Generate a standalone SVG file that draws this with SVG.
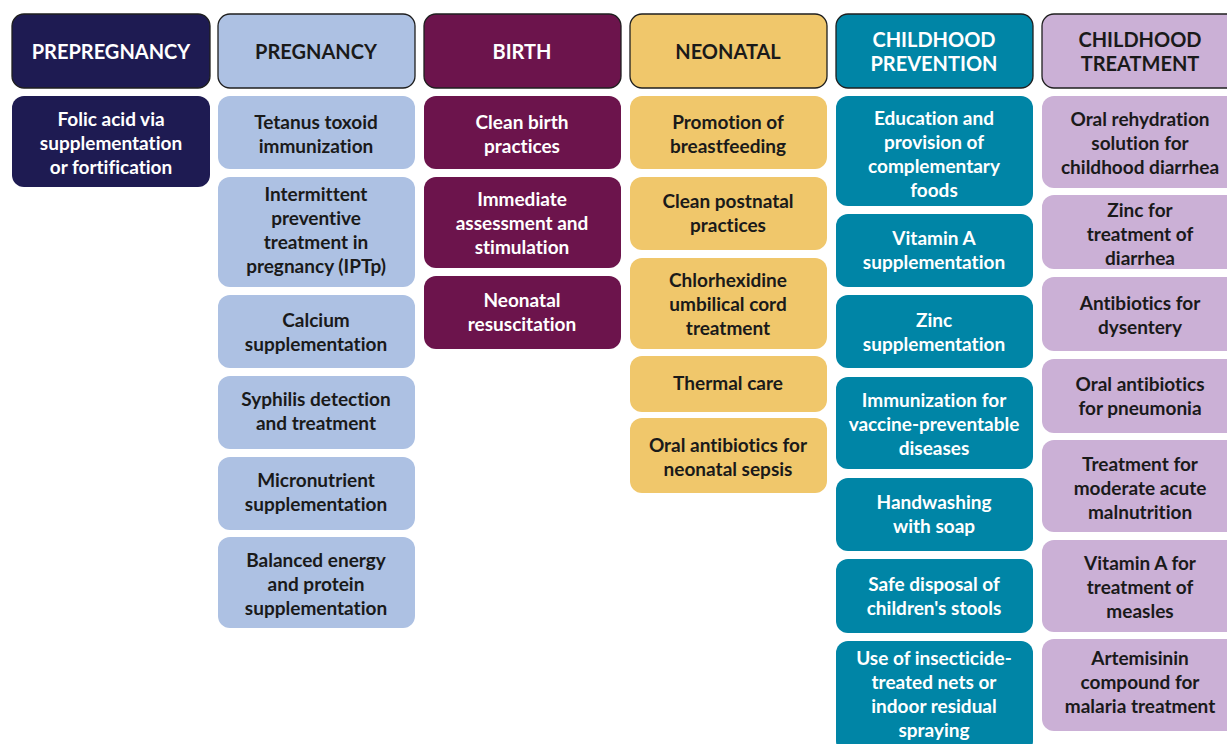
<svg xmlns="http://www.w3.org/2000/svg" width="1227" height="744" viewBox="0 0 1227 744">
<style>
text{font-family:Lato,"Open Sans","Liberation Sans",sans-serif;font-weight:700;font-size:19px;text-anchor:middle;font-variant-ligatures:none}
.hd{stroke:#1f1f1f;stroke-width:1.3}
.ht{font-size:20px}
.c1{fill:#1e1b52}.c2{fill:#adc1e3}.c3{fill:#6c144c}.c4{fill:#f0c76b}.c5{fill:#0085a6}.c6{fill:#cbb0d6}
.w{fill:#ffffff}.k{fill:#1a1a1a}
</style>
<rect width="1227" height="744" fill="#ffffff"/>
<g id="headers">
<g id="h-prepregnancy"><rect class="hd c1" x="12" y="14" width="198" height="74" rx="12"/><text class="w ht" x="111" y="59">PREPREGNANCY</text></g>
<g id="h-pregnancy"><rect class="hd c2" x="218" y="14" width="197" height="74" rx="12"/><text class="k ht" x="316" y="59">PREGNANCY</text></g>
<g id="h-birth"><rect class="hd c3" x="424" y="14" width="197" height="74" rx="12"/><text class="w ht" x="522" y="59">BIRTH</text></g>
<g id="h-neonatal"><rect class="hd c4" x="630" y="14" width="197" height="74" rx="12"/><text class="k ht" x="728" y="59">NEONATAL</text></g>
<g id="h-prevention"><rect class="hd c5" x="836" y="14" width="197" height="74" rx="12"/><text class="w ht" x="934" y="47">CHILDHOOD</text><text class="w ht" x="934" y="71">PREVENTION</text></g>
<g id="h-treatment"><rect class="hd c6" x="1042" y="14" width="198" height="74" rx="12"/><text class="k ht" x="1140" y="47">CHILDHOOD</text><text class="k ht" x="1140" y="71">TREATMENT</text></g>
</g>
<g id="col-prepregnancy">
<g id="n-folic"><rect class="c1" x="12" y="96" width="198" height="91" rx="12"/><text class="w" x="111" y="126">Folic acid via</text><text class="w" x="111" y="150">supplementation</text><text class="w" x="111" y="174">or fortification</text></g>
</g>
<g id="col-pregnancy">
<g id="n-tetanus"><rect class="c2" x="218" y="96" width="197" height="73" rx="12"/><text class="k" x="316" y="129">Tetanus toxoid</text><text class="k" x="316" y="153">immunization</text></g>
<g id="n-iptp"><rect class="c2" x="218" y="177" width="197" height="110" rx="12"/><text class="k" x="316" y="201">Intermittent</text><text class="k" x="316" y="225">preventive</text><text class="k" x="316" y="249">treatment in</text><text class="k" x="316" y="273">pregnancy (IPTp)</text></g>
<g id="n-calcium"><rect class="c2" x="218" y="295" width="197" height="73" rx="12"/><text class="k" x="316" y="327">Calcium</text><text class="k" x="316" y="351">supplementation</text></g>
<g id="n-syphilis"><rect class="c2" x="218" y="376" width="197" height="73" rx="12"/><text class="k" x="316" y="406">Syphilis detection</text><text class="k" x="316" y="430">and treatment</text></g>
<g id="n-micronutrient"><rect class="c2" x="218" y="457" width="197" height="73" rx="12"/><text class="k" x="316" y="487">Micronutrient</text><text class="k" x="316" y="511">supplementation</text></g>
<g id="n-balanced"><rect class="c2" x="218" y="537" width="197" height="91" rx="12"/><text class="k" x="316" y="567">Balanced energy</text><text class="k" x="316" y="591">and protein</text><text class="k" x="316" y="615">supplementation</text></g>
</g>
<g id="col-birth">
<g id="n-clean-birth"><rect class="c3" x="424" y="96" width="197" height="73" rx="12"/><text class="w" x="522" y="129">Clean birth</text><text class="w" x="522" y="153">practices</text></g>
<g id="n-assessment"><rect class="c3" x="424" y="177" width="197" height="91" rx="12"/><text class="w" x="522" y="206">Immediate</text><text class="w" x="522" y="230">assessment and</text><text class="w" x="522" y="254">stimulation</text></g>
<g id="n-resuscitation"><rect class="c3" x="424" y="276" width="197" height="73" rx="12"/><text class="w" x="522" y="307">Neonatal</text><text class="w" x="522" y="331">resuscitation</text></g>
</g>
<g id="col-neonatal">
<g id="n-breastfeeding"><rect class="c4" x="630" y="96" width="197" height="73" rx="12"/><text class="k" x="728" y="129">Promotion of</text><text class="k" x="728" y="153">breastfeeding</text></g>
<g id="n-postnatal"><rect class="c4" x="630" y="177" width="197" height="73" rx="12"/><text class="k" x="728" y="208">Clean postnatal</text><text class="k" x="728" y="232">practices</text></g>
<g id="n-chlorhexidine"><rect class="c4" x="630" y="258" width="197" height="91" rx="12"/><text class="k" x="728" y="287">Chlorhexidine</text><text class="k" x="728" y="311">umbilical cord</text><text class="k" x="728" y="335">treatment</text></g>
<g id="n-thermal"><rect class="c4" x="630" y="356" width="197" height="56" rx="12"/><text class="k" x="728" y="390">Thermal care</text></g>
<g id="n-sepsis"><rect class="c4" x="630" y="418" width="197" height="75" rx="12"/><text class="k" x="728" y="452">Oral antibiotics for</text><text class="k" x="728" y="476">neonatal sepsis</text></g>
</g>
<g id="col-prevention">
<g id="n-complementary"><rect class="c5" x="836" y="96" width="197" height="110" rx="12"/><text class="w" x="934" y="125">Education and</text><text class="w" x="934" y="149">provision of</text><text class="w" x="934" y="173">complementary</text><text class="w" x="934" y="197">foods</text></g>
<g id="n-vitA"><rect class="c5" x="836" y="214" width="197" height="73" rx="12"/><text class="w" x="934" y="245">Vitamin A</text><text class="w" x="934" y="269">supplementation</text></g>
<g id="n-zinc"><rect class="c5" x="836" y="295" width="197" height="73" rx="12"/><text class="w" x="934" y="327">Zinc</text><text class="w" x="934" y="351">supplementation</text></g>
<g id="n-immunization"><rect class="c5" x="836" y="377" width="197" height="92" rx="12"/><text class="w" x="934" y="407">Immunization for</text><text class="w" x="934" y="431">vaccine-preventable</text><text class="w" x="934" y="455">diseases</text></g>
<g id="n-handwashing"><rect class="c5" x="836" y="478" width="197" height="73" rx="12"/><text class="w" x="934" y="509">Handwashing</text><text class="w" x="934" y="533">with soap</text></g>
<g id="n-stools"><rect class="c5" x="836" y="559" width="197" height="74" rx="12"/><text class="w" x="934" y="591">Safe disposal of</text><text class="w" x="934" y="615">children's stools</text></g>
<g id="n-nets"><rect class="c5" x="836" y="641" width="197" height="112" rx="12"/><text class="w" x="934" y="665">Use of insecticide-</text><text class="w" x="934" y="689">treated nets or</text><text class="w" x="934" y="713">indoor residual</text><text class="w" x="934" y="737">spraying</text></g>
</g>
<g id="col-treatment">
<g id="n-ors"><rect class="c6" x="1042" y="96" width="198" height="92" rx="12"/><text class="k" x="1140" y="126">Oral rehydration</text><text class="k" x="1140" y="150">solution for</text><text class="k" x="1140" y="174">childhood diarrhea</text></g>
<g id="n-zinc-tx"><rect class="c6" x="1042" y="195" width="198" height="74" rx="12"/><text class="k" x="1140" y="217">Zinc for</text><text class="k" x="1140" y="241">treatment of</text><text class="k" x="1140" y="265">diarrhea</text></g>
<g id="n-dysentery"><rect class="c6" x="1042" y="277" width="198" height="74" rx="12"/><text class="k" x="1140" y="310">Antibiotics for</text><text class="k" x="1140" y="334">dysentery</text></g>
<g id="n-pneumonia"><rect class="c6" x="1042" y="359" width="198" height="74" rx="12"/><text class="k" x="1140" y="391">Oral antibiotics</text><text class="k" x="1140" y="415">for pneumonia</text></g>
<g id="n-malnutrition"><rect class="c6" x="1042" y="440" width="198" height="92" rx="12"/><text class="k" x="1140" y="471">Treatment for</text><text class="k" x="1140" y="495">moderate acute</text><text class="k" x="1140" y="519">malnutrition</text></g>
<g id="n-measles"><rect class="c6" x="1042" y="540" width="198" height="92" rx="12"/><text class="k" x="1140" y="570">Vitamin A for</text><text class="k" x="1140" y="594">treatment of</text><text class="k" x="1140" y="618">measles</text></g>
<g id="n-malaria"><rect class="c6" x="1042" y="639" width="198" height="92" rx="12"/><text class="k" x="1140" y="665">Artemisinin</text><text class="k" x="1140" y="689">compound for</text><text class="k" x="1140" y="713">malaria treatment</text></g>
</g>
</svg>
